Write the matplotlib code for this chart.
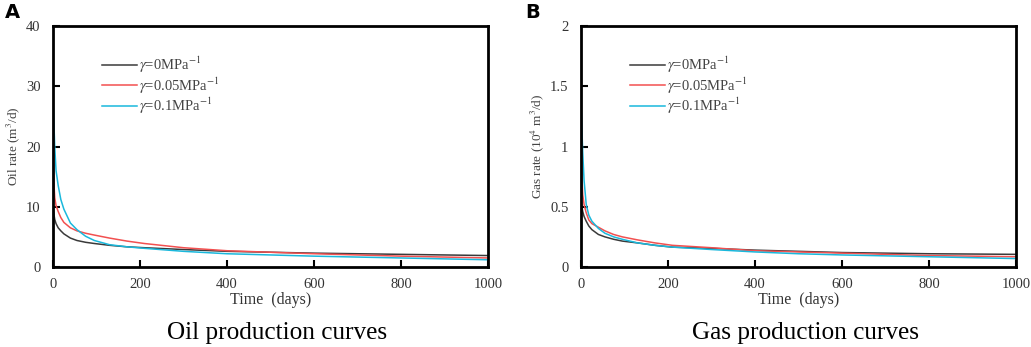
import matplotlib
matplotlib.use('Agg')
import matplotlib.pyplot as plt

plt.rcParams['font.family'] = 'Liberation Serif'
plt.rcParams['mathtext.fontset'] = 'stix'

# time axis (days)
time = [0, 2, 4, 7, 12, 18, 25, 40, 55, 75, 95, 130, 170, 210, 300, 400, 500, 600, 800, 1000]

# oil rate (m3/d)
oil_g0 = [10, 8.8, 7.9, 7.2, 6.5, 6.0, 5.5, 4.8, 4.4, 4.1, 3.9, 3.6, 3.35, 3.2, 2.9, 2.6, 2.45, 2.3, 2.1, 1.9]
oil_g005 = [22, 14, 11.5, 10.2, 9.2, 8.2, 7.4, 6.5, 6.0, 5.6, 5.3, 4.8, 4.3, 3.9, 3.2, 2.7, 2.45, 2.2, 1.8, 1.5]
oil_g01 = [28, 24, 20, 16, 13.5, 11.2, 9.6, 7.3, 6.2, 5.1, 4.4, 3.7, 3.35, 3.1, 2.6, 2.2, 2.0, 1.8, 1.5, 1.2]

# gas rate (10^4 m3/d)
gas_g0 = [0.58, 0.5, 0.46, 0.42, 0.38, 0.34, 0.31, 0.27, 0.25, 0.23, 0.215, 0.2, 0.18, 0.165, 0.155, 0.14, 0.13, 0.12, 0.11, 0.105]
gas_g005 = [1.0, 0.75, 0.6, 0.52, 0.45, 0.39, 0.36, 0.33, 0.3, 0.27, 0.25, 0.225, 0.2, 0.18, 0.16, 0.135, 0.125, 0.115, 0.095, 0.085]
gas_g01 = [1.35, 1.15, 0.95, 0.72, 0.52, 0.43, 0.38, 0.32, 0.28, 0.25, 0.23, 0.2, 0.18, 0.165, 0.145, 0.125, 0.11, 0.1, 0.085, 0.07]

labels = [r'$\gamma$=0MPa$^{-1}$', r'$\gamma$=0.05MPa$^{-1}$', r'$\gamma$=0.1MPa$^{-1}$']
colors = ['#3a3a3a', '#f25050', '#1ab8dc']

fig = plt.figure(figsize=(10.31, 3.47), dpi=100)
ax1 = fig.add_axes([53/1031, 80/347, 435/1031, 241/347])
ax2 = fig.add_axes([581/1031, 80/347, 435/1031, 241/347])


def style(ax, series, ymax, yticks, ytl, ylabel):
    for y, c, lab in zip(series, colors, labels):
        ax.plot(time, y, color=c, lw=1.1, label=lab)
    ax.set_xlim(0, 1000)
    ax.set_ylim(0, ymax)
    ax.set_xticks([0, 200, 400, 600, 800, 1000])
    ax.set_yticks(yticks)
    ax.set_yticklabels(ytl)
    ax.tick_params(direction='in', length=5, width=1.5, labelsize=10.5,
                   labelcolor='#333333', top=False, right=False)
    ax.tick_params(axis='x', pad=8)
    ax.tick_params(axis='y', pad=9)
    for s in ax.spines.values():
        s.set_linewidth(2)
    ax.set_xlabel('Time  (days)', fontsize=11.5, color='#333333', labelpad=1)
    ax.set_ylabel(ylabel, fontsize=9.5, color='#444444', labelpad=3)
    leg = ax.legend(loc='upper left', bbox_to_anchor=(0.113, 0.88), frameon=False,
                    fontsize=10.5, handlelength=2.4, handletextpad=0.1,
                    labelspacing=0.0, borderaxespad=0, borderpad=0)
    for t in leg.get_texts():
        t.set_color('#444444')


style(ax1, [oil_g0, oil_g005, oil_g01], 40, [0, 10, 20, 30, 40],
      ['0', '10', '20', '30', '40'], 'Oil rate (m$^3$/d)')
style(ax2, [gas_g0, gas_g005, gas_g01], 2, [0, 0.5, 1, 1.5, 2],
      ['0', '0.5', '1', '1.5', '2'], 'Gas rate (10$^4$ m$^3$/d)')

fig.text(5/1031, 1 - 12/347, 'A', fontsize=14, fontweight='bold',
         family='DejaVu Sans', va='center', ha='left')
fig.text(525/1031, 1 - 12/347, 'B', fontsize=14, fontweight='bold',
         family='DejaVu Sans', va='center', ha='left')
fig.text(277/1031, 1 - 333/347, 'Oil production curves', fontsize=18.2,
         ha='center', va='center')
fig.text(805/1031, 1 - 333/347, 'Gas production curves', fontsize=18.2,
         ha='center', va='center')

fig.savefig('out.png', dpi=100)
